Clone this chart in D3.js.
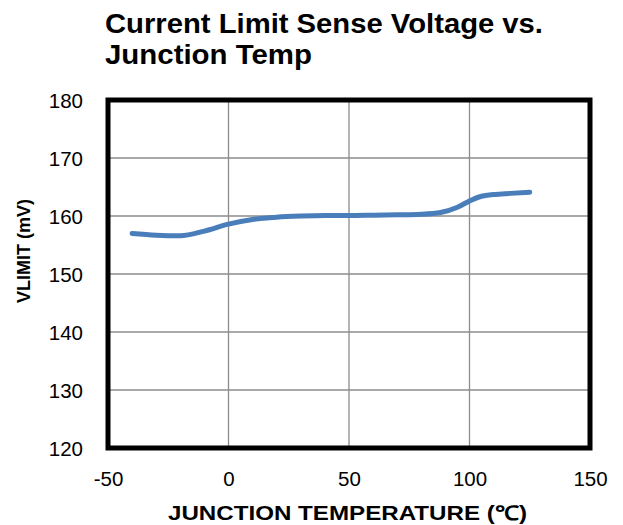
<!DOCTYPE html>
<html><head><meta charset="utf-8">
<script src="https://cdn.jsdelivr.net/npm/d3@7"></script>
<style>body{margin:0;background:#fff}svg{display:block}text{font-family:"Liberation Sans",Arial,sans-serif}</style>
</head><body>
<script>
const titleLines = ["Current Limit Sense Voltage vs.", "Junction Temp"];
const xLabel = "JUNCTION  TEMPERATURE  (\u2103)";
const yLabel = "VLIMIT (mV)";
const xTicks = [-50, 0, 50, 100, 150];
const yTicks = [120, 130, 140, 150, 160, 170, 180];
const tempC = [-40, -30, -20, -10, 0, 10, 20, 30, 40, 50, 60, 70, 80, 88, 95, 100, 105, 110, 117, 125];
const vlimit = [157.0, 156.7, 156.6, 157.4, 158.6, 159.4, 159.8, 160.0, 160.1, 160.1, 160.15, 160.2, 160.3, 160.6, 161.5, 162.6, 163.4, 163.7, 163.9, 164.1];

const W = 623, H = 525;
const m = {left: 108, right: 590, top: 100, bottom: 448};
const svg = d3.select("body").append("svg").attr("width", W).attr("height", H);
const x = d3.scaleLinear().domain([-50, 150]).range([m.left, m.right]);
const y = d3.scaleLinear().domain([120, 180]).range([m.bottom, m.top]);
const fmt = d => String(d);

// grid
svg.append("g").selectAll("line").data(xTicks).join("line")
  .attr("x1", d => x(d)).attr("x2", d => x(d)).attr("y1", m.top).attr("y2", m.bottom)
  .attr("stroke", "#8c8c8c").attr("stroke-width", 1.3);
svg.append("g").selectAll("line").data(yTicks).join("line")
  .attr("y1", d => y(d)).attr("y2", d => y(d)).attr("x1", m.left).attr("x2", m.right)
  .attr("stroke", "#8c8c8c").attr("stroke-width", 1.3);

// axes tick labels
const xAxis = d3.axisBottom(x).tickValues(xTicks).tickSize(0).tickPadding(0).tickFormat(fmt);
const gx = svg.append("g").attr("transform", `translate(0,${m.bottom})`).call(xAxis);
gx.select(".domain").remove();
gx.selectAll("text").attr("font-size", 20.5).attr("fill", "#000").attr("dy", null).attr("y", 38)
  .attr("font-family", '"Liberation Sans",Arial,sans-serif');

const yAxis = d3.axisLeft(y).tickValues(yTicks).tickSize(0).tickPadding(0).tickFormat(fmt);
const gy = svg.append("g").attr("transform", `translate(83,0)`).call(yAxis);
gy.select(".domain").remove();
gy.selectAll("text").attr("font-size", 20.5).attr("fill", "#000").attr("dy", "0.35em").attr("x", 0)
  .attr("font-family", '"Liberation Sans",Arial,sans-serif');

// line
const line = d3.line().x((d, i) => x(tempC[i])).y(d => y(d)).curve(d3.curveMonotoneX);
svg.append("path").datum(vlimit).attr("d", line).attr("fill", "none")
  .attr("stroke", "#4a7ebb").attr("stroke-width", 5).attr("stroke-linecap", "round").attr("stroke-linejoin", "round");

// frame
svg.append("rect").attr("x", m.left).attr("y", m.top).attr("width", m.right - m.left).attr("height", m.bottom - m.top)
  .attr("fill", "none").attr("stroke", "#000").attr("stroke-width", 5);

// title
const tLens = [438, 207];
svg.append("g").selectAll("text").data(titleLines).join("text")
  .attr("x", 105).attr("y", (d, i) => 33 + i * 31)
  .attr("font-size", 27).attr("font-weight", "bold").attr("fill", "#000")
  .attr("textLength", (d, i) => tLens[i]).attr("lengthAdjust", "spacingAndGlyphs").text(d => d);

// axis titles
svg.append("text").attr("x", 168).attr("y", 520).attr("font-size", 20).attr("font-weight", "bold")
  .attr("textLength", 359).attr("lengthAdjust", "spacingAndGlyphs").text(xLabel);
svg.append("text").attr("transform", "translate(30,251) rotate(-90)").attr("text-anchor", "middle")
  .attr("font-size", 18).attr("font-weight", "bold").text(yLabel);
</script>
</body></html>
